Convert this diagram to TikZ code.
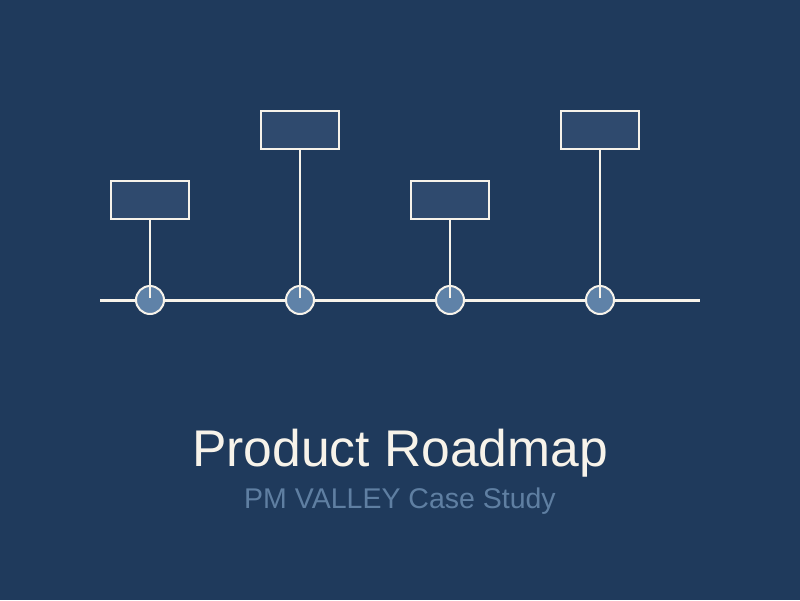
\documentclass[tikz,border=0pt]{standalone}
\usepackage{fontspec}
\setmainfont{Liberation Sans}
\definecolor{bg}{HTML}{1F3A5C}
\definecolor{boxfill}{HTML}{2F4A6E}
\definecolor{dotfill}{HTML}{5F82A8}
\definecolor{ink}{HTML}{F7F3EA}
\definecolor{subink}{HTML}{5F7FA2}
\tikzset{
  milebox/.style={draw=ink, line width=2pt, fill=boxfill, minimum width=78pt, minimum height=38pt, inner sep=0pt},
  miledot/.style={circle, draw=ink, line width=2pt, fill=dotfill, minimum size=28pt, inner sep=0pt},
  stem/.style={draw=ink, line width=2pt},
  axis/.style={draw=ink, line width=3pt}
}
\begin{document}
\begin{tikzpicture}[x=1pt,y=-1pt]
\fill[bg] (0,0) rectangle (800,600);
\useasboundingbox (0,0) rectangle (800,600);
\coordinate (L) at (100,300);
\coordinate (R) at (700,300);
\draw[axis] (L) -- (R);
\node[miledot] (d1) at (150,300) {};
\node[miledot] (d2) at (300,300) {};
\node[miledot] (d3) at (450,300) {};
\node[miledot] (d4) at (600,300) {};
\node[milebox] (b1) at (150,200) {};
\node[milebox] (b2) at (300,130) {};
\node[milebox] (b3) at (450,200) {};
\node[milebox] (b4) at (600,130) {};
\foreach \i in {1,2,3,4} {
  \draw[stem] (b\i.south) -- ([yshift=2pt]d\i.center);
}
\node[text=ink, font=\fontsize{51.6}{60}\selectfont, anchor=base] (title) at (400,466) {Product Roadmap};
\node[text=subink, font=\fontsize{28.5}{34}\selectfont, anchor=base] (sub) at (400,508) {PM VALLEY Case Study};
\end{tikzpicture}
\end{document}
